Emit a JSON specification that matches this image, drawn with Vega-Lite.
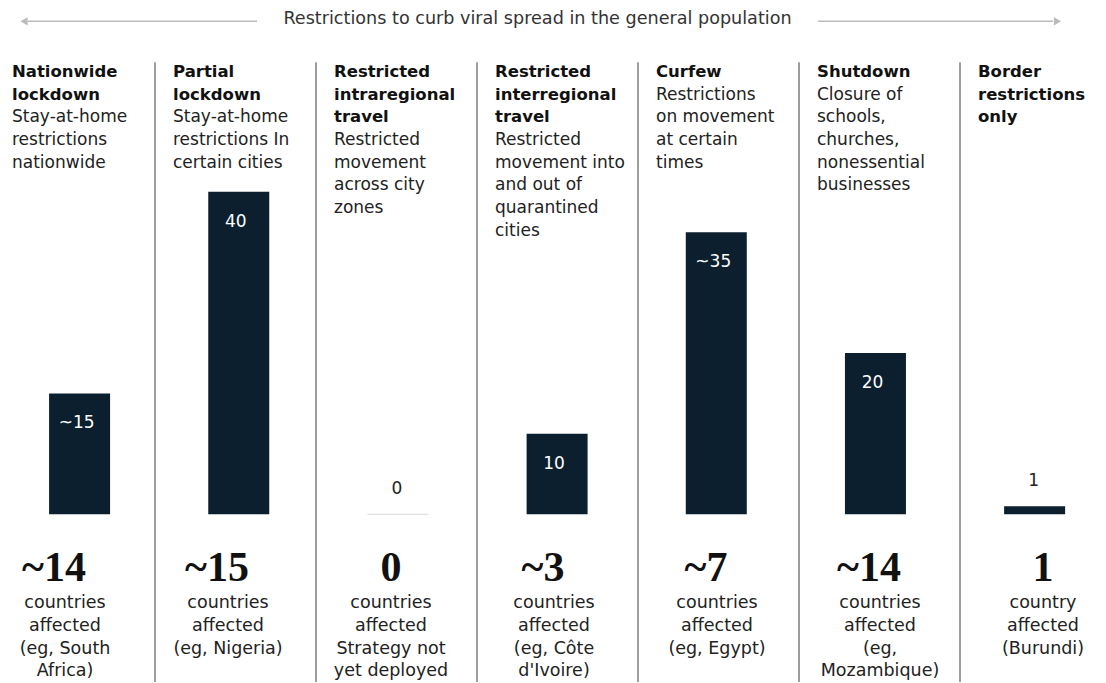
{
  "$schema": "https://vega.github.io/schema/vega-lite/v6.json",
  "width": 1106,
  "height": 683,
  "padding": 0,
  "autosize": {"type": "fit", "contains": "padding"},
  "background": "white",
  "config": {"view": {"stroke": null}},
  "datasets": {
    "main": [
      {"cat": "Nationwide lockdown", "title": ["Nationwide", "lockdown"], "desc": ["Stay-at-home", "restrictions", "nationwide"], "value": 15, "label": "~15", "big": "~14", "bottom": ["countries", "affected", "(eg, South", "Africa)"]},
      {"cat": "Partial lockdown", "title": ["Partial", "lockdown"], "desc": ["Stay-at-home", "restrictions In", "certain cities"], "value": 40, "label": "40", "big": "~15", "bottom": ["countries", "affected", "(eg, Nigeria)"]},
      {"cat": "Restricted intraregional travel", "title": ["Restricted", "intraregional", "travel"], "desc": ["Restricted", "movement", "across city", "zones"], "value": 0, "label": "0", "big": "0", "bottom": ["countries", "affected", "Strategy not", "yet deployed"]},
      {"cat": "Restricted interregional travel", "title": ["Restricted", "interregional", "travel"], "desc": ["Restricted", "movement into", "and out of", "quarantined", "cities"], "value": 10, "label": "10", "big": "~3", "bottom": ["countries", "affected", "(eg, Côte", "d'Ivoire)"]},
      {"cat": "Curfew", "title": ["Curfew"], "desc": ["Restrictions", "on movement", "at certain", "times"], "value": 35, "label": "~35", "big": "~7", "bottom": ["countries", "affected", "(eg, Egypt)"]},
      {"cat": "Shutdown", "title": ["Shutdown"], "desc": ["Closure of", "schools,", "churches,", "nonessential", "businesses"], "value": 20, "label": "20", "big": "~14", "bottom": ["countries", "affected", "(eg,", "Mozambique)"]},
      {"cat": "Border restrictions only", "title": ["Border", "restrictions", "only"], "desc": [""], "value": 1, "label": "1", "big": "1", "bottom": ["country", "affected", "(Burundi)"]}
    ],
    "header": [
      {"text": "Restrictions to curb viral spread in the general population"}
    ]
  },
  "data": {"name": "main"},
  "resolve": {"scale": {"x": "independent"}},
  "layer": [
    {
      "transform": [{"filter": "datum.cat != 'Nationwide lockdown'"}],
      "mark": {"type": "rule", "color": "#3c3c3c", "strokeWidth": 1, "yOffset": -452},
      "encoding": {
        "x": {"field": "cat", "type": "nominal", "bandPosition": 0, "axis": null, "scale": {"type": "band", "domain": ["Nationwide lockdown", "Partial lockdown", "Restricted intraregional travel", "Restricted interregional travel", "Curfew", "Shutdown", "Border restrictions only"], "range": [-6, 1121], "paddingInner": 0, "paddingOuter": 0}},
        "y": {"datum": 0, "type": "quantitative", "axis": null, "scale": {"domain": [-20.8, 63.8], "nice": false, "zero": false}},
        "y2": {"datum": -20.8}
      }
    },
    {
      "mark": {"type": "text", "font": "DejaVu Sans", "fontWeight": "bold", "fontSize": 16.5, "color": "#111111", "align": "left", "baseline": "alphabetic", "dx": 18, "dy": -437.5, "lineHeight": 22.7},
      "encoding": {
        "x": {"field": "cat", "type": "nominal", "bandPosition": 0, "axis": null, "scale": {"type": "band", "domain": ["Nationwide lockdown", "Partial lockdown", "Restricted intraregional travel", "Restricted interregional travel", "Curfew", "Shutdown", "Border restrictions only"], "range": [-6, 1121], "paddingInner": 0, "paddingOuter": 0}},
        "y": {"datum": 0, "type": "quantitative", "axis": null},
        "text": {"field": "title"}
      }
    },
    {
      "transform": [{"filter": "length(datum.title) == 1"}],
      "mark": {"type": "text", "font": "DejaVu Sans", "fontSize": 17, "color": "#222222", "align": "left", "baseline": "alphabetic", "dx": 18, "dy": -414.8, "lineHeight": 22.7},
      "encoding": {
        "x": {"field": "cat", "type": "nominal", "bandPosition": 0, "axis": null, "scale": {"type": "band", "domain": ["Nationwide lockdown", "Partial lockdown", "Restricted intraregional travel", "Restricted interregional travel", "Curfew", "Shutdown", "Border restrictions only"], "range": [-6, 1121], "paddingInner": 0, "paddingOuter": 0}},
        "y": {"datum": 0, "type": "quantitative", "axis": null},
        "text": {"field": "desc"}
      }
    },
    {
      "transform": [{"filter": "length(datum.title) == 2"}],
      "mark": {"type": "text", "font": "DejaVu Sans", "fontSize": 17, "color": "#222222", "align": "left", "baseline": "alphabetic", "dx": 18, "dy": -392.1, "lineHeight": 22.7},
      "encoding": {
        "x": {"field": "cat", "type": "nominal", "bandPosition": 0, "axis": null, "scale": {"type": "band", "domain": ["Nationwide lockdown", "Partial lockdown", "Restricted intraregional travel", "Restricted interregional travel", "Curfew", "Shutdown", "Border restrictions only"], "range": [-6, 1121], "paddingInner": 0, "paddingOuter": 0}},
        "y": {"datum": 0, "type": "quantitative", "axis": null},
        "text": {"field": "desc"}
      }
    },
    {
      "transform": [{"filter": "length(datum.title) == 3"}],
      "mark": {"type": "text", "font": "DejaVu Sans", "fontSize": 17, "color": "#222222", "align": "left", "baseline": "alphabetic", "dx": 18, "dy": -369.4, "lineHeight": 22.7},
      "encoding": {
        "x": {"field": "cat", "type": "nominal", "bandPosition": 0, "axis": null, "scale": {"type": "band", "domain": ["Nationwide lockdown", "Partial lockdown", "Restricted intraregional travel", "Restricted interregional travel", "Curfew", "Shutdown", "Border restrictions only"], "range": [-6, 1121], "paddingInner": 0, "paddingOuter": 0}},
        "y": {"datum": 0, "type": "quantitative", "axis": null},
        "text": {"field": "desc"}
      }
    },
    {
      "data": {"name": "header"},
      "mark": {"type": "text", "font": "DejaVu Sans", "fontSize": 17.6, "color": "#333333", "align": "center", "baseline": "alphabetic", "dx": -20, "dy": -490},
      "encoding": {
        "x": {"datum": "Restricted interregional travel", "bandPosition": 0.5, "axis": null, "scale": {"type": "band", "domain": ["Nationwide lockdown", "Partial lockdown", "Restricted intraregional travel", "Restricted interregional travel", "Curfew", "Shutdown", "Border restrictions only"], "range": [-6, 1121], "paddingInner": 0, "paddingOuter": 0}},
        "y": {"datum": 0, "type": "quantitative", "axis": null},
        "text": {"field": "text"}
      }
    },
    {
      "data": {"name": "header"},
      "mark": {"type": "rule", "color": "#bbbbbb", "strokeWidth": 1.5, "yOffset": -493, "xOffset": 34, "x2Offset": 21.5},
      "encoding": {
        "x": {"datum": "Nationwide lockdown", "bandPosition": 0, "axis": null, "scale": {"type": "band", "domain": ["Nationwide lockdown", "Partial lockdown", "Restricted intraregional travel", "Restricted interregional travel", "Curfew", "Shutdown", "Border restrictions only"], "range": [-6, 1121], "paddingInner": 0, "paddingOuter": 0}},
        "x2": {"datum": "Partial lockdown"},
        "y": {"datum": 0, "type": "quantitative", "axis": null}
      }
    },
    {
      "data": {"name": "header"},
      "mark": {"type": "rule", "color": "#bbbbbb", "strokeWidth": 1.5, "yOffset": -493, "xOffset": 19, "x2Offset": 12.5},
      "encoding": {
        "x": {"datum": "Shutdown", "bandPosition": 0, "axis": null, "scale": {"type": "band", "domain": ["Nationwide lockdown", "Partial lockdown", "Restricted intraregional travel", "Restricted interregional travel", "Curfew", "Shutdown", "Border restrictions only"], "range": [-6, 1121], "paddingInner": 0, "paddingOuter": 0}},
        "x2": {"datum": "Border restrictions only"},
        "y": {"datum": 0, "type": "quantitative", "axis": null}
      }
    },
    {
      "data": {"name": "header"},
      "mark": {"type": "point", "shape": "triangle-left", "filled": true, "size": 70, "color": "#bbbbbb", "opacity": 1, "xOffset": 30, "yOffset": -493},
      "encoding": {
        "x": {"datum": "Nationwide lockdown", "bandPosition": 0, "axis": null, "scale": {"type": "band", "domain": ["Nationwide lockdown", "Partial lockdown", "Restricted intraregional travel", "Restricted interregional travel", "Curfew", "Shutdown", "Border restrictions only"], "range": [-6, 1121], "paddingInner": 0, "paddingOuter": 0}},
        "y": {"datum": 0, "type": "quantitative", "axis": null}
      }
    },
    {
      "data": {"name": "header"},
      "mark": {"type": "point", "shape": "triangle-right", "filled": true, "size": 70, "color": "#bbbbbb", "opacity": 1, "xOffset": 97.5, "yOffset": -493},
      "encoding": {
        "x": {"datum": "Border restrictions only", "bandPosition": 0, "axis": null, "scale": {"type": "band", "domain": ["Nationwide lockdown", "Partial lockdown", "Restricted intraregional travel", "Restricted interregional travel", "Curfew", "Shutdown", "Border restrictions only"], "range": [-6, 1121], "paddingInner": 0, "paddingOuter": 0}},
        "y": {"datum": 0, "type": "quantitative", "axis": null}
      }
    },
    {
      "transform": [{"filter": "datum.value == 0"}],
      "mark": {"type": "tick", "orient": "horizontal", "size": 61, "thickness": 1, "color": "#c5cbd1"},
      "encoding": {
        "x": {"field": "cat", "type": "nominal", "bandPosition": 0.5, "axis": null, "scale": {"type": "band", "domain": ["Nationwide lockdown", "Partial lockdown", "Restricted intraregional travel", "Restricted interregional travel", "Curfew", "Shutdown", "Border restrictions only"], "range": [0, 1114.2], "paddingInner": 0, "paddingOuter": 0}},
        "y": {"field": "value", "type": "quantitative", "axis": null}
      }
    },
    {
      "mark": {"type": "bar", "width": 61, "color": "#0b1f2e"},
      "encoding": {
        "x": {"field": "cat", "type": "nominal", "axis": null, "scale": {"type": "band", "domain": ["Nationwide lockdown", "Partial lockdown", "Restricted intraregional travel", "Restricted interregional travel", "Curfew", "Shutdown", "Border restrictions only"], "range": [0, 1114.2], "paddingInner": 0, "paddingOuter": 0}},
        "y": {"field": "value", "type": "quantitative", "axis": null}
      }
    },
    {
      "transform": [{"filter": "datum.value >= 5"}],
      "mark": {"type": "text", "font": "DejaVu Sans", "fontSize": 17, "color": "#ffffff", "align": "center", "baseline": "alphabetic", "dx": -3, "dy": 35},
      "encoding": {
        "x": {"field": "cat", "type": "nominal", "bandPosition": 0.5, "axis": null, "scale": {"type": "band", "domain": ["Nationwide lockdown", "Partial lockdown", "Restricted intraregional travel", "Restricted interregional travel", "Curfew", "Shutdown", "Border restrictions only"], "range": [0, 1114.2], "paddingInner": 0, "paddingOuter": 0}},
        "y": {"field": "value", "type": "quantitative", "axis": null},
        "text": {"field": "label"}
      }
    },
    {
      "transform": [{"filter": "datum.value < 5"}],
      "mark": {"type": "text", "font": "DejaVu Sans", "fontSize": 17, "color": "#222222", "align": "center", "baseline": "alphabetic", "dx": -1, "dy": -20},
      "encoding": {
        "x": {"field": "cat", "type": "nominal", "bandPosition": 0.5, "axis": null, "scale": {"type": "band", "domain": ["Nationwide lockdown", "Partial lockdown", "Restricted intraregional travel", "Restricted interregional travel", "Curfew", "Shutdown", "Border restrictions only"], "range": [0, 1114.2], "paddingInner": 0, "paddingOuter": 0}},
        "y": {"field": "value", "type": "quantitative", "axis": null},
        "text": {"field": "label"}
      }
    },
    {
      "transform": [{"filter": "indexof(datum.big, '~') == 0"}],
      "mark": {"type": "text", "font": "Liberation Serif", "fontWeight": "bold", "fontSize": 42, "color": "#111111", "align": "center", "baseline": "alphabetic", "dx": -11, "dy": 67},
      "encoding": {
        "x": {"field": "cat", "type": "nominal", "bandPosition": 0.5, "axis": null, "scale": {"type": "band", "domain": ["Nationwide lockdown", "Partial lockdown", "Restricted intraregional travel", "Restricted interregional travel", "Curfew", "Shutdown", "Border restrictions only"], "range": [-16.5, 1124.5], "paddingInner": 0, "paddingOuter": 0}},
        "y": {"datum": 0, "type": "quantitative", "axis": null},
        "text": {"field": "big"}
      }
    },
    {
      "transform": [{"filter": "indexof(datum.big, '~') != 0"}],
      "mark": {"type": "text", "font": "Liberation Serif", "fontWeight": "bold", "fontSize": 42, "color": "#111111", "align": "center", "baseline": "alphabetic", "dy": 67},
      "encoding": {
        "x": {"field": "cat", "type": "nominal", "bandPosition": 0.5, "axis": null, "scale": {"type": "band", "domain": ["Nationwide lockdown", "Partial lockdown", "Restricted intraregional travel", "Restricted interregional travel", "Curfew", "Shutdown", "Border restrictions only"], "range": [-16.5, 1124.5], "paddingInner": 0, "paddingOuter": 0}},
        "y": {"datum": 0, "type": "quantitative", "axis": null},
        "text": {"field": "big"}
      }
    },
    {
      "mark": {"type": "text", "font": "DejaVu Sans", "fontSize": 17.5, "color": "#222222", "align": "center", "baseline": "alphabetic", "dy": 94, "lineHeight": 22.6},
      "encoding": {
        "x": {"field": "cat", "type": "nominal", "bandPosition": 0.5, "axis": null, "scale": {"type": "band", "domain": ["Nationwide lockdown", "Partial lockdown", "Restricted intraregional travel", "Restricted interregional travel", "Curfew", "Shutdown", "Border restrictions only"], "range": [-16.5, 1124.5], "paddingInner": 0, "paddingOuter": 0}},
        "y": {"datum": 0, "type": "quantitative", "axis": null},
        "text": {"field": "bottom"}
      }
    }
  ]
}
